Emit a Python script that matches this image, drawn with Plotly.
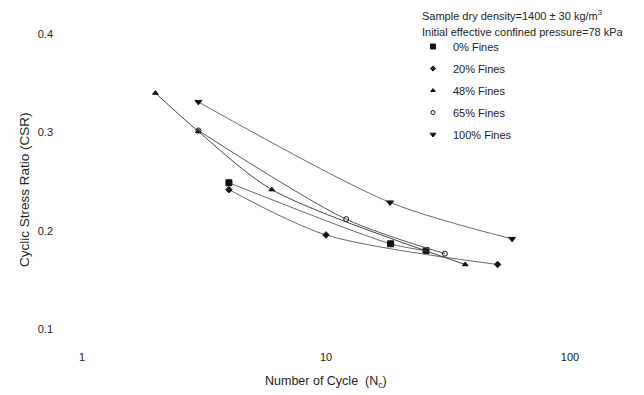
import plotly.graph_objects as go

# ---- data ----
series_names = ["0% Fines", "20% Fines", "48% Fines", "65% Fines", "100% Fines"]
n_0 = [4, 18.4, 25.7]
csr_0 = [0.249, 0.187, 0.180]
n_20 = [4, 10, 50.5]
csr_20 = [0.242, 0.196, 0.166]
n_48 = [2, 3, 6, 37.2]
csr_48 = [0.340, 0.301, 0.242, 0.166]
n_65 = [3, 12.1, 30.7]
csr_65 = [0.302, 0.212, 0.177]
n_100 = [3, 18.3, 57.9]
csr_100 = [0.331, 0.229, 0.192]
x_tick_vals = [1, 10, 100]
x_tick_text = ["1", "10", "100"]
y_tick_vals = [0.1, 0.2, 0.3, 0.4]
y_tick_text = ["0.1", "0.2", "0.3", "0.4"]
header_lines = ["Sample dry density=1400 ± 30 kg/m<sup>3</sup>",
                "Initial effective confined pressure=78 kPa"]

xs = [n_0, n_20, n_48, n_65, n_100]
ys = [csr_0, csr_20, csr_48, csr_65, csr_100]
symbols = ["square", "diamond", "triangle-up", "circle-open", "triangle-down"]
sizes = [6, 5, 5, 5, 6]
line_colors = ["#6a6a6a", "#6a6a6a", "#444444", "#555555", "#6a6a6a"]

FONT = "Liberation Sans, Arial, sans-serif"
fig = go.Figure()

for i, name in enumerate(series_names):
    fig.add_trace(go.Scatter(
        x=xs[i], y=ys[i], mode="lines+markers", name=name, showlegend=False,
        line=dict(color=line_colors[i], width=1, shape="spline", smoothing=0.8),
        marker=dict(symbol=symbols[i], size=sizes[i], color="#111111",
                    line=dict(color="#111111", width=1)),
    ))
    # legend-only entry (marker only)
    fig.add_trace(go.Scatter(
        x=[None], y=[None], mode="markers", name=name, legendgroup=name,
        marker=dict(symbol=symbols[i], size=sizes[i] - 1, color="#111111",
                    line=dict(color="#111111", width=1)),
    ))

# the page body has an 8px margin; work in reference pixel coords and shift
OFF = 8
W, H = 644 - OFF, 395 - OFF
ref_left, ref_right, ref_top, ref_bottom = 82, 620, 24, 347
L = ref_left - OFF
T = ref_top - OFF
R = W - (ref_right - OFF)
B = H - (ref_bottom - OFF)
pw = W - L - R
ph = H - T - B
decade = 244.0
y_per_px = 0.1 / 98.5
y_top = 0.4 + (34 - ref_top) * y_per_px
y_bot = 0.4 - (ref_bottom - 34) * y_per_px

def px_to_paper_x(px):
    return (px - ref_left) / pw

def px_to_paper_y(py):
    return (ref_bottom - py) / ph

fig.update_layout(
    width=W, height=H,
    margin=dict(l=L, r=R, t=T, b=B),
    paper_bgcolor="white", plot_bgcolor="white",
    font=dict(family=FONT, size=11, color="#222222"),
    xaxis=dict(type="log", range=[0, pw / decade], showgrid=False, zeroline=False,
               showline=False, ticks="", tickvals=x_tick_vals, ticktext=x_tick_text,
               tickfont=dict(size=11), ticklabelstandoff=2),
    yaxis=dict(range=[y_bot, y_top], showgrid=False, zeroline=False, showline=False,
               ticks="", tickvals=y_tick_vals, ticktext=y_tick_text,
               tickfont=dict(size=11), ticklabelstandoff=28),
    legend=dict(x=px_to_paper_x(413), y=px_to_paper_y(32), xanchor="left", yanchor="top",
                font=dict(size=11), bgcolor="rgba(0,0,0,0)", tracegroupgap=3,
                traceorder="grouped", itemwidth=30),
    showlegend=True,
)

annotations = [
    dict(text=header_lines[0], x=px_to_paper_x(420), y=px_to_paper_y(15),
         xref="paper", yref="paper", xanchor="left", yanchor="middle",
         showarrow=False, font=dict(size=11)),
    dict(text=header_lines[1], x=px_to_paper_x(420), y=px_to_paper_y(32),
         xref="paper", yref="paper", xanchor="left", yanchor="middle",
         showarrow=False, font=dict(size=11)),
    dict(text="Number of Cycle  (N<sub>c</sub>)", x=px_to_paper_x(326), y=px_to_paper_y(382),
         xref="paper", yref="paper", xanchor="center", yanchor="middle",
         showarrow=False, font=dict(size=12.5)),
    dict(text="Cyclic Stress Ratio (CSR)", x=px_to_paper_x(25), y=px_to_paper_y(190),
         xref="paper", yref="paper", xanchor="center", yanchor="middle", textangle=-90,
         showarrow=False, font=dict(size=13.5)),
]
fig.update_layout(annotations=annotations)

fig.write_html("out.html")
